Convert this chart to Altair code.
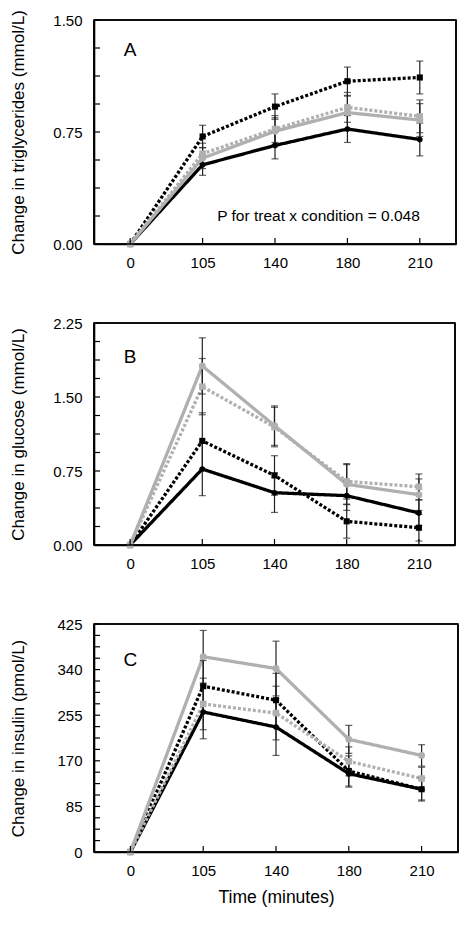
import altair as alt
import pandas as pd

times = ["0", "105", "140", "180", "210"]
series = ["black_solid", "black_dotted", "gray_dotted", "gray_solid"]
line_colors = ["#000000", "#000000", "#b0b0b0", "#b0b0b0"]
line_dashes = [[1, 0], [3, 2], [3, 2], [1, 0]]
point_shapes = ["circle", "square", "square", "circle"]
point_sizes = [32, 48, 48, 32]

# Panel A: triglycerides (mmol/L)
tg_vals = {
    "black_solid": [0, 0.53, 0.66, 0.77, 0.70],
    "black_dotted": [0, 0.72, 0.92, 1.09, 1.115],
    "gray_solid": [0, 0.575, 0.755, 0.88, 0.83],
    "gray_dotted": [0, 0.605, 0.77, 0.915, 0.855],
}
tg_errs = {
    "black_solid": [0, 0.07, 0.09, 0.09, 0.11],
    "black_dotted": [0, 0.075, 0.085, 0.095, 0.11],
    "gray_solid": [0, 0.07, 0.09, 0.11, 0.11],
    "gray_dotted": [0, 0.07, 0.09, 0.10, 0.11],
}
# Panel B: glucose (mmol/L)
glu_vals = {
    "black_solid": [0, 0.77, 0.53, 0.50, 0.325],
    "black_dotted": [0, 1.055, 0.705, 0.24, 0.175],
    "gray_solid": [0, 1.815, 1.21, 0.615, 0.51],
    "gray_dotted": [0, 1.605, 1.195, 0.645, 0.59],
}
glu_errs = {
    "black_solid": [0, 0.27, 0.2, 0.15, 0.13],
    "black_dotted": [0, 0.285, 0.2, 0.17, 0.135],
    "gray_solid": [0, 0.285, 0.2, 0.2, 0.16],
    "gray_dotted": [0, 0.285, 0.2, 0.18, 0.13],
}
# Panel C: insulin (pmol/L)
ins_vals = {
    "black_solid": [0, 261, 233, 146, 117],
    "black_dotted": [0, 309, 283, 151, 117],
    "gray_solid": [0, 364, 342, 210, 180],
    "gray_dotted": [0, 276, 259, 169, 137],
}
ins_errs = {
    "black_solid": [0, 50, 53, 25, 20],
    "black_dotted": [0, 48, 50, 28, 22],
    "gray_solid": [0, 49, 51, 26, 20],
    "gray_dotted": [0, 48, 50, 27, 21],
}

tg_major = [0.0, 0.75, 1.5]
tg_minor = [i * 1.5 / 8 for i in range(9)]
glu_major = [0.0, 0.75, 1.5, 2.25]
glu_minor = [i * 2.25 / 12 for i in range(13)]
ins_major = [0, 85, 170, 255, 340, 425]
ins_minor = [i * 425 / 20 for i in range(21)]

FONT = "Liberation Sans"


def panel(vals, errs, ymax, major, minor, ytitle, fmt, letter, letter_y,
          width, height, xtitle=None, note=None, note_y=None):
    rows = []
    for s in series:
        for t, v, e in zip(times, vals[s], errs[s]):
            rows.append({"t": t, "series": s, "value": v,
                         "lo": v - e, "hi": v + e, "err": e})
    df = pd.DataFrame(rows)
    yscale = alt.Scale(domain=[0, ymax], nice=False, zero=True)
    xenc = alt.X("t:O", sort=times, scale=alt.Scale(type="point", padding=0.5),
                 axis=alt.Axis(title=xtitle, labelAngle=0, ticks=False,
                               domain=True, domainColor="black", domainWidth=1.6,
                               labelPadding=11, labelFontSize=15, labelFont=FONT,
                               titleFontSize=17.5, titleFont=FONT, titleFontWeight="normal",
                               titlePadding=10, labelColor="black", titleColor="black"))
    yenc = alt.Y("value:Q", scale=yscale,
                 axis=alt.Axis(title=ytitle, values=major, format=fmt, ticks=False,
                               domain=True, domainColor="black", domainWidth=1.6,
                               grid=False, labelPadding=12,
                               labelFontSize=15, labelFont=FONT, titleFont=FONT,
                               titleFontSize=17, titleFontWeight="normal",
                               titleX=-67, titleBaseline="bottom",
                               labelColor="black", titleColor="black"))
    base = alt.Chart(df)
    color = alt.Color("series:N", scale=alt.Scale(domain=series, range=line_colors), legend=None)
    # frame edges through the y scale
    hdf = pd.DataFrame({"yv": [0.0, ymax]})
    vdf = pd.DataFrame({"y0": [0.0], "y1": [ymax]})
    edges_h = alt.Chart(hdf).mark_rule(color="black", strokeWidth=1.6).encode(
        y=alt.Y("yv:Q"), x=alt.value(0), x2=alt.value(width))
    edge_l = alt.Chart(vdf).mark_rule(color="black", strokeWidth=1.6).encode(
        y=alt.Y("y0:Q"), y2="y1:Q", x=alt.value(0))
    edge_r = alt.Chart(vdf).mark_rule(color="black", strokeWidth=1.6).encode(
        y=alt.Y("y0:Q"), y2="y1:Q", x=alt.value(width))
    lines = base.mark_line(strokeWidth=3.3).encode(
        x=xenc, y=yenc, color=color,
        strokeDash=alt.StrokeDash("series:N", scale=alt.Scale(domain=series, range=line_dashes), legend=None),
        order=alt.Order("t:O"),
    )
    pts = base.mark_point(filled=True, opacity=1).encode(
        x=alt.X("t:O", sort=times), y=alt.Y("value:Q"), color=color,
        shape=alt.Shape("series:N", scale=alt.Scale(domain=series, range=point_shapes), legend=None),
        size=alt.Size("series:N", scale=alt.Scale(domain=series, range=point_sizes), legend=None),
    )
    eb = base.transform_filter("datum.err > 0")
    bars = eb.mark_rule(color="#222222", strokeWidth=1.2).encode(
        x=alt.X("t:O", sort=times), y=alt.Y("lo:Q"), y2="hi:Q")
    cap_lo = eb.mark_tick(color="#222222", thickness=1.2, size=7).encode(
        x=alt.X("t:O", sort=times), y=alt.Y("lo:Q"))
    cap_hi = eb.mark_tick(color="#222222", thickness=1.2, size=7).encode(
        x=alt.X("t:O", sort=times), y=alt.Y("hi:Q"))
    xt = alt.Chart(pd.DataFrame({"t": times})).mark_rule(color="black", strokeWidth=1.2).encode(
        x=alt.X("t:O", sort=times), y=alt.value(height), y2=alt.value(height - 6))
    yt = alt.Chart(pd.DataFrame({"v": minor})).mark_rule(color="black", strokeWidth=1.2).encode(
        y=alt.Y("v:Q"), x=alt.value(0), x2=alt.value(6))
    lab = alt.Chart(pd.DataFrame({"t": [times[0]], "v": [letter_y], "txt": [letter]})).mark_text(
        fontSize=19, font=FONT, align="center", baseline="middle", color="black").encode(
        x=alt.X("t:O", sort=times), y=alt.Y("v:Q"), text="txt:N")
    layers = [lines, bars, cap_lo, cap_hi, pts, xt, yt, lab, edges_h, edge_l, edge_r]
    if note:
        nt = alt.Chart(pd.DataFrame({"t": [times[-1]], "v": [note_y], "txt": [note]})).mark_text(
            fontSize=15.5, font=FONT, align="right", baseline="middle", color="black").encode(
            x=alt.X("t:O", sort=times), y=alt.Y("v:Q"), text="txt:N")
        layers.append(nt)
    return alt.layer(*layers).properties(width=width, height=height)


pA = panel(tg_vals, tg_errs, 1.5, tg_major, tg_minor, "Change in triglycerides (mmol/L)", ".2f",
           "A", 1.30, 362, 224, note="P for treat x condition = 0.048", note_y=0.19)
pB = panel(glu_vals, glu_errs, 2.25, glu_major, glu_minor, "Change in glucose (mmol/L)", ".2f",
           "B", 1.91, 361, 222)
pC = panel(ins_vals, ins_errs, 425, ins_major, ins_minor, "Change in insulin (pmol/L)", "d",
           "C", 357, 364, 228, xtitle="Time (minutes)")

chart = alt.vconcat(pA, pB, pC, spacing=44).properties(
    padding={"top": 0, "left": 0, "right": 2, "bottom": 0}
).configure(background="white").configure_axis(
    titleFontWeight="normal"
).configure_view(stroke="black", strokeWidth=1.6)

chart.save("out.html", embed_options={"renderer": "svg", "actions": False})
